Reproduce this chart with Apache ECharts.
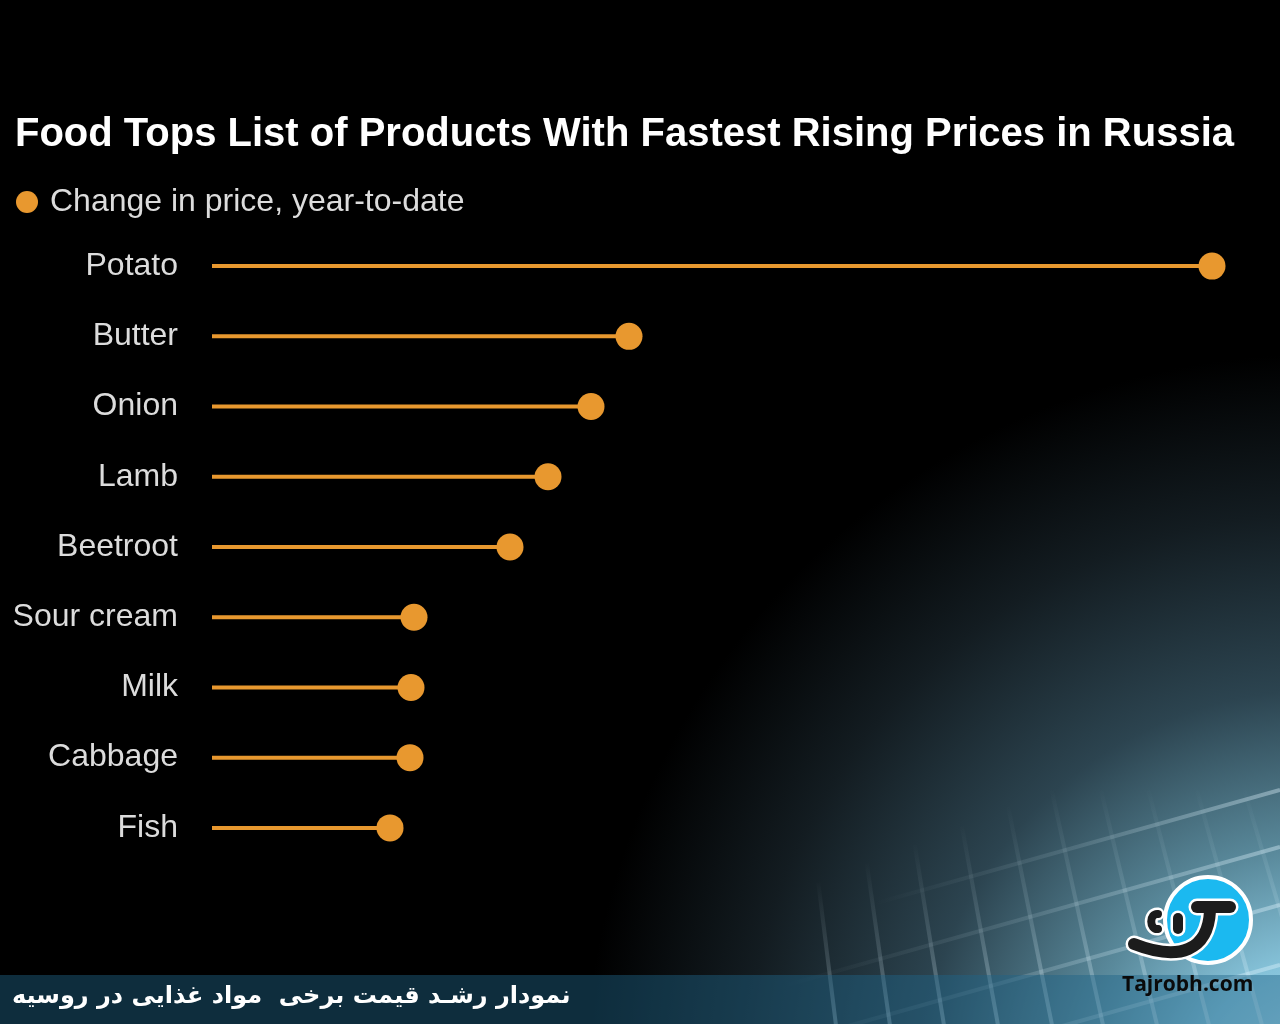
<!DOCTYPE html>
<html>
<head>
<meta charset="utf-8">
<script src="https://cdn.jsdelivr.net/npm/echarts@6/dist/echarts.min.js"></script>
<style>html,body{margin:0;padding:0;background:#000;}#c{width:1280px;height:1024px;}</style>
</head>
<body>
<div id="c"></div>
<script>
const categories = ['Potato','Butter','Onion','Lamb','Beetroot','Sour cream','Milk','Cabbage','Fish'];
const values = [50, 20.85, 18.95, 16.8, 14.9, 10.1, 9.95, 9.9, 8.9];
const seriesName = 'Change in price, year-to-date';
const titleText = 'Food Tops List of Products With Fastest Rising Prices in Russia';
const bannerText = 'نمودار رشـد قیمت برخی  مواد غذایی در روسیه';
const siteText = 'Tajrobh.com';

const ORANGE = '#e8982f';
const chart = echarts.init(document.getElementById('c'));

// decorative perspective grid (watermark background)
const deco = [];
const vBottoms = [836, 890, 944, 998, 1052, 1103, 1157, 1209, 1262, 1314];
vBottoms.forEach(xb => {
  const lean = 0.1 + (xb - 800) / 460 * 0.16;
  const yt = 790 + Math.max(0, 1100 - xb) * 0.35;
  deco.push({type:'line', silent:true, z:-9,
    shape:{x1:xb - lean*(1040-yt), y1:yt, x2:xb + lean*16, y2:1040},
    style:{lineWidth:4, stroke:{type:'linear', x:0, y:0, x2:0, y2:1,
      colorStops:[{offset:0,color:'rgba(225,245,255,0)'},{offset:0.5,color:'rgba(225,245,255,0.15)'},{offset:1,color:'rgba(225,245,255,0.4)'}]}}});
});
const hRight = [790, 847, 905, 965, 1027, 1090];
hRight.forEach(yr => {
  const slope = 0.28;
  const xl = 700 + Math.max(0, 900 - yr) * 1.6;
  deco.push({type:'line', silent:true, z:-9,
    shape:{x1:xl, y1:yr + slope*(1280-xl), x2:1280, y2:yr},
    style:{lineWidth:4, stroke:{type:'linear', x:0, y:0, x2:1, y2:0,
      colorStops:[{offset:0,color:'rgba(225,245,255,0)'},{offset:0.5,color:'rgba(225,245,255,0.12)'},{offset:1,color:'rgba(225,245,255,0.4)'}]}}});
});

const blk = '#1c1c1c';
function stroked(type, shape, w) {
  return [
    {type, silent:true, z:6, shape, style:{stroke:'#ffffff', lineWidth:w+5, lineCap:'round', fill:null}},
    {type, silent:true, z:7, shape, style:{stroke:blk, lineWidth:w, lineCap:'round', fill:null}}
  ];
}

chart.setOption({
  backgroundColor:'#000',
  animation:false,
  textStyle:{fontFamily:'Liberation Sans, Arial, sans-serif'},
  graphic:[
    {type:'rect', silent:true, z:-10, shape:{x:0,y:0,width:1280,height:1024},
      style:{fill:{type:'radial', x:1320, y:1090, r:800, global:true,
        colorStops:[{offset:0,color:'#b4e3f6'},{offset:0.16,color:'#86c3da'},{offset:0.3,color:'#5a8a9c'},{offset:0.5,color:'#2c4450'},{offset:0.72,color:'#131c21'},{offset:0.92,color:'#000000'}]}}},
    ...deco,
    {type:'rect', silent:true, z:-5, shape:{x:0,y:975,width:1280,height:49},
      style:{fill:'rgba(32,100,135,0.45)'}},
    {type:'text', silent:true, z:5, left:12, top:985,
      style:{text:bannerText, fill:'#ffffff', font:'bold 24px "DejaVu Sans", sans-serif'}},
    {type:'circle', silent:true, z:5, shape:{cx:1208,cy:920,r:43},
      style:{fill:'#1bb9f0', stroke:'#ffffff', lineWidth:4}},
    ...stroked('bezierCurve', {x1:1210, y1:911, cpx1:1208, cpy1:950, cpx2:1180, cpy2:962, x2:1134, y2:944}, 12),
    ...stroked('line', {x1:1197, y1:907, x2:1230, y2:907}, 12),
    ...stroked('bezierCurve', {x1:1158, y1:914, cpx1:1149, cpy1:913, cpx2:1149, cpy2:930, x2:1158, y2:929}, 8),
    ...stroked('line', {x1:1178, y1:918, x2:1178, y2:929}, 10),
    {type:'text', silent:true, z:8, left:1122, top:975,
      style:{text:siteText, fill:'#0a0a0a', font:'bold 21px "Open Sans", "DejaVu Sans", sans-serif'}}
  ],
  title:{
    text:titleText, left:10, top:110,
    textStyle:{color:'#ffffff', fontSize:40, fontWeight:'bold', fontFamily:'Liberation Sans, Arial, sans-serif'}
  },
  legend:{
    data:[seriesName], left:11, top:181, icon:'circle', itemWidth:22, itemHeight:22, itemGap:14,
    textStyle:{color:'#dcdcdc', fontSize:32, padding:[0,0,0,7]}
  },
  grid:{left:212, right:68, top:231, bottom:161, containLabel:false},
  xAxis:{type:'value', min:0, max:50, show:false},
  yAxis:{
    type:'category', data:categories, inverse:true,
    axisLine:{show:false}, axisTick:{show:false}, splitLine:{show:false},
    axisLabel:{color:'#dcdcdc', fontSize:32, margin:34}
  },
  series:[
    {type:'bar', data:values, barWidth:4, itemStyle:{color:ORANGE}, silent:true, legendHoverLink:false},
    {type:'scatter', name:seriesName, data:values, symbol:'circle', symbolSize:27, itemStyle:{color:ORANGE, opacity:1}, z:5}
  ]
});
</script>
</body>
</html>
